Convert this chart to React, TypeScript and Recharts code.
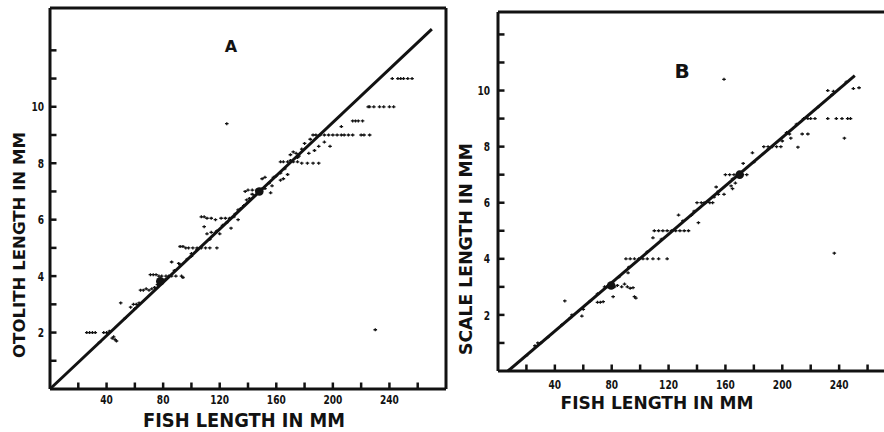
import React from "react";
import { ScatterChart, Scatter, XAxis, YAxis, ReferenceLine } from "recharts";

const INK = "#121212";
const FONT = "'DejaVu Sans Condensed', 'Liberation Sans Narrow', 'DejaVu Sans', sans-serif";

// shared axes (fish length in mm, hard-part length in mm)
const fishTicks = [20, 40, 60, 80, 100, 120, 140, 160, 180, 200, 220, 240, 260];
const fishLabels = [40, 80, 120, 160, 200, 240];
const mmTicks = [1, 2, 3, 4, 5, 6, 7, 8, 9, 10, 11, 12];
const mmLabels = [2, 4, 6, 8, 10];
const fishMax = 280;

// A: otolith length vs fish length
const otolithPoints: [number, number][] = [
  [26, 2], [28, 2], [30, 2], [32, 2], [35, 1.65], [38, 2], [40, 2], [42, 2.05],
  [44, 1.8], [45, 1.85], [46, 1.75], [47, 1.7], [50, 3.05], [53, 2.5],
  [57, 2.9], [59, 3], [60, 2.85], [61, 3], [63, 3.05],
  [64, 3.5], [66, 3.5], [68, 3.55], [70, 3.5], [72, 3.55], [74, 3.6], [76, 3.7],
  [71, 4.05], [73, 4.05], [75, 4.05], [77, 4], [79, 4], [80, 3.85], [82, 3.9],
  [82, 4], [84, 4], [86, 4], [89, 4], [93, 4], [94, 3.95],
  [86, 4.5], [88, 4.2], [91, 4.45], [92, 4.4], [97, 4.6], [100, 4.8], [100, 4.7], [104, 4.95],
  [92, 5.05], [94, 5.05], [96, 5], [98, 5], [101, 5], [104, 5], [107, 5], [110, 5], [113, 5], [118, 5],
  [109, 5.75], [111, 5.5], [113, 5.3], [114, 5.55], [117, 5.55], [118, 5.6], [120, 5.5],
  [107, 6.1], [109, 6.1], [111, 6.05], [114, 6.05], [117, 6], [121, 6.05], [124, 6.05],
  [127, 6.05], [130, 6.1], [133, 6], [122, 5.8], [125, 5.9], [128, 5.7],
  [131, 6.2], [133, 6.35], [135, 6.4], [137, 6.5], [139, 6.7], [141, 6.75], [143, 6.9], [145, 6.85],
  [138, 7], [140, 7.05], [143, 7.05], [146, 7.05], [150, 7.1], [152, 7.1],
  [156, 6.95], [157, 7.2], [150, 7.45], [152, 7.5], [155, 7.3], [158, 7.5], [160, 7.55],
  [163, 7.65], [163, 7.4], [165, 7.45], [166, 7.8], [168, 7.6],
  [163, 8.05], [165, 8.05], [168, 8.05], [170, 8.1], [172, 8.05], [175, 8.05], [178, 8],
  [182, 8], [186, 8], [190, 8], [170, 8.3], [172, 8.4], [174, 8.35], [175, 8.2], [176, 8.25],
  [178, 8.5], [180, 8.7], [183, 8.35], [187, 8.45], [190, 8.6], [194, 8.75], [198, 8.6],
  [184, 8.85], [186, 9], [188, 9], [191, 9], [194, 9], [197, 9], [200, 9], [203, 9],
  [206, 9], [208, 9], [211, 9], [214, 9], [220, 9], [222, 9], [226, 9], [206, 9.3],
  [214, 9.5], [216, 9.5], [218, 9.5], [221, 9.5],
  [225, 10], [226, 10], [229, 10], [233, 10], [236, 10], [240, 10], [243, 10],
  [242, 11], [246, 11], [248, 11], [250, 11], [253, 11], [256, 11],
  [125, 9.4], [230, 2.1],
];
const otolithHeavy: [number, number][] = [[78, 3.82], [148, 7.0]];
const otolithFit: [number, number][] = [[0, 0], [270, 12.75]];

// B: scale length vs fish length
const scalePoints: [number, number][] = [
  [20, 0.55], [26, 0.9], [28, 1], [30, 1], [35, 1.2], [45, 1.65], [47, 2.5],
  [51, 1.9], [52, 2], [59, 1.96], [60, 2.2], [65, 2.5], [70, 2.45], [72, 2.45], [74, 2.47],
  [70, 2.75], [81, 2.65], [96, 2.65],
  [75, 3], [77, 3], [82, 3], [84, 3.05], [85, 3.35], [87, 3], [89, 3.1], [91, 3],
  [91.5, 3.5], [92, 3.7], [93, 2.95], [95, 2.97], [97, 2.6],
  [90, 4], [93, 4], [96, 4], [99, 4], [102, 4], [105, 4], [109, 4], [113, 4], [119, 4],
  [105, 4.25], [109, 4.75], [115, 4.7],
  [110, 5], [113, 5], [116, 5], [119, 5], [122, 5], [125, 5], [128, 5], [131, 5], [134, 5],
  [127, 5.56], [130, 5.35], [136, 5.55], [138, 5.7], [141, 5.29],
  [140, 6], [143, 6], [145, 6], [146, 6], [149, 6], [151, 6],
  [152, 6.2], [153.5, 6.56], [155, 6.3], [155, 6.4], [159, 6.3], [164, 6.6], [165, 6.5], [167, 6.7], [165, 6.85],
  [160, 7], [163, 7], [166, 7], [169, 7], [172, 7], [175, 7],
  [172.5, 7.4], [179, 7.78], [180, 7.45], [190, 7.9],
  [187, 8], [190, 8], [193, 8], [196, 8], [199, 8],
  [200, 8.2], [203, 8.5], [205, 8.45], [206, 8.3], [211, 7.98], [214, 8.45], [218, 8.45], [210, 8.8],
  [215, 9], [218, 9], [220, 9], [223, 9], [232, 9], [238, 9], [242, 9], [246, 9], [248, 9],
  [225, 9.4], [243.7, 8.3], [235, 9.85], [245, 10.3],
  [232, 10], [236, 9.97], [250, 10.07], [254, 10.1],
  [236.6, 4.2], [159, 10.4],
];
const scaleHeavy: [number, number][] = [[79.6, 3.05], [170, 7.0]];
const scaleFit: [number, number][] = [[7, 0], [251, 10.53]];

const toXY = (pts: [number, number][]) => pts.map(([x, y]) => ({ x, y }));

const Plus = ({ cx, cy }: any) => (
  <path d={`M${cx - 1.8},${cy}h3.6M${cx},${cy - 1.5}v3`} stroke={INK} strokeWidth={1.3} />
);
const Blob = ({ cx, cy }: any) => <circle cx={cx} cy={cy} r={4.3} fill={INK} />;

type PanelProps = {
  left: number;
  width: number;
  height: number;
  top: number;
  right: number;
  plotHeight: number;
  yAxisWidth: number;
  yMax: number;
  points: [number, number][];
  heavy: [number, number][];
  fit: [number, number][];
  letter: string;
  letterAt: [number, number, number];
  xTitle: string;
  xTitleAt: [number, number, number, number];
  yTitle: string;
  yTitleAt: [number, number, number, number];
  xLabelDy: number;
  yLabelDx: number;
};

const Panel = (p: PanelProps) => {
  const axisH = p.height - p.top - p.plotHeight;
  const line = { stroke: INK, strokeWidth: 3 };

  // tick marks point into the plot, like the printed figure
  const xTick = ({ x, y, payload }: any) => {
    const v = payload.value;
    const s = String(v);
    return (
      <g>
        <line x1={x} y1={y} x2={x} y2={y - 6.5} stroke={INK} strokeWidth={2.5} />
        {fishLabels.includes(v) && (
          <text x={x} y={y + p.xLabelDy} textAnchor="middle" fill={INK} fontFamily={FONT}
            fontWeight="bold" fontSize={13} textLength={s.length * 6.3} lengthAdjust="spacingAndGlyphs">
            {s}
          </text>
        )}
      </g>
    );
  };

  const yTick = ({ x, y, payload }: any) => {
    const v = payload.value;
    const s = String(v);
    return (
      <g>
        <line x1={x} y1={y} x2={x + 6.5} y2={y} stroke={INK} strokeWidth={2.5} />
        {mmLabels.includes(v) && (
          <text x={x - p.yLabelDx} y={y} dy="0.36em" textAnchor="end" fill={INK} fontFamily={FONT}
            fontWeight="bold" fontSize={13} textLength={s.length * 6.3} lengthAdjust="spacingAndGlyphs">
            {s}
          </text>
        )}
      </g>
    );
  };

  const [xcx, xby, xlen, xsize] = p.xTitleAt;
  const [ycx, ycy, ylen, ysize] = p.yTitleAt;
  const [lcx, lby, lsize] = p.letterAt;

  return (
    <div style={{ position: "absolute", left: p.left, top: 0 }}>
      <ScatterChart width={p.width} height={p.height}
        margin={{ top: p.top, right: p.right, bottom: 0, left: 0 }}>
        <XAxis type="number" dataKey="x" domain={[0, fishMax]} ticks={fishTicks} allowDataOverflow
          interval={0} height={axisH} tickSize={0} tickMargin={0} tickLine={false} axisLine={line} tick={xTick}
          label={() => (
            <text x={xcx} y={xby} textAnchor="middle" fill={INK} fontFamily={FONT} fontWeight="bold"
              fontSize={xsize} textLength={xlen} lengthAdjust="spacingAndGlyphs">
              {p.xTitle}
            </text>
          )}
        />
        <YAxis type="number" dataKey="y" domain={[0, p.yMax]} ticks={mmTicks} allowDataOverflow
          interval={0} width={p.yAxisWidth} tickSize={0} tickMargin={0} tickLine={false} axisLine={line} tick={yTick}
          label={() => (
            <text x={ycx} y={ycy} dy="0.36em" textAnchor="middle" fill={INK} fontFamily={FONT} fontWeight="bold"
              fontSize={ysize} textLength={ylen} lengthAdjust="spacingAndGlyphs"
              transform={`rotate(-90 ${ycx} ${ycy})`}>
              {p.yTitle}
            </text>
          )}
        />
        <ReferenceLine y={p.yMax} stroke={INK} strokeWidth={3} ifOverflow="visible"
          label={() => (
            <text x={lcx} y={lby} textAnchor="middle" fill={INK} fontFamily="'DejaVu Sans', sans-serif"
              fontWeight="bold" fontSize={lsize}>
              {p.letter}
            </text>
          )}
        />
        <ReferenceLine x={fishMax} stroke={INK} strokeWidth={3} ifOverflow="visible" />
        <ReferenceLine
          segment={[{ x: p.fit[0][0], y: p.fit[0][1] }, { x: p.fit[1][0], y: p.fit[1][1] }]}
          stroke={INK} strokeWidth={3} ifOverflow="visible"
        />
        <Scatter data={toXY(p.points)} shape={Plus} isAnimationActive={false} />
        <Scatter data={toXY(p.heavy)} shape={Blob} isAnimationActive={false} />
      </ScatterChart>
    </div>
  );
};

export default function App() {
  return (
    <div style={{ position: "absolute", left: 0, top: 0, width: 884, height: 432, overflow: "hidden", background: "#fff" }}>
      <Panel
        left={0} width={450} height={432} top={8} right={4} plotHeight={381} yAxisWidth={50} yMax={13.5}
        points={otolithPoints} heavy={otolithHeavy} fit={otolithFit}
        letter="A" letterAt={[231, 52, 16]}
        xTitle="FISH LENGTH IN MM" xTitleAt={[244, 427, 202, 19]}
        yTitle="OTOLITH LENGTH IN MM" yTitleAt={[19, 245, 226, 16]}
        xLabelDy={15} yLabelDx={6}
      />
      <Panel
        left={450} width={448} height={432} top={12} right={2} plotHeight={359} yAxisWidth={48} yMax={12.8}
        points={scalePoints} heavy={scaleHeavy} fit={scaleFit}
        letter="B" letterAt={[232, 78, 20]}
        xTitle="FISH LENGTH IN MM" xTitleAt={[207, 409, 193, 18]}
        yTitle="SCALE LENGTH IN MM" yTitleAt={[16, 249, 212, 18]}
        xLabelDy={18} yLabelDx={8}
      />
    </div>
  );
}
